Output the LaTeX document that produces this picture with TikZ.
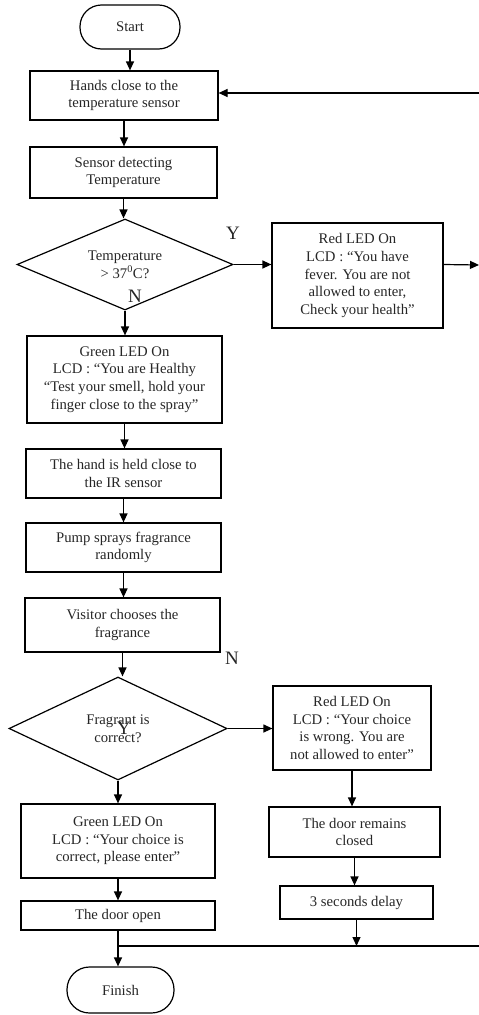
\documentclass[tikz,border=0pt]{standalone}
\usepackage{fontspec}
\setmainfont{Liberation Serif}
\usetikzlibrary{shapes.geometric,arrows.meta}
\begin{document}
\begin{tikzpicture}[x=1pt,y=-1pt,
  every node/.style={font=\fontsize{14.7}{17.6}\selectfont, align=center, line width=1.2pt, text=black!85},
  box/.style={draw, rectangle, inner sep=0pt},
  term/.style={draw, rectangle, inner sep=0pt, rounded corners=21.5pt},
  dec/.style={draw, diamond, inner sep=0pt, aspect=2.3},
  arr/.style={line width=1.2pt, -{Triangle[length=9pt,width=8pt]}},
  ln/.style={line width=1.2pt},
  lbl/.style={font=\fontsize{19}{19}\selectfont}
]
\useasboundingbox (0,0) rectangle (479,1015);

\node[term, minimum width=100pt, minimum height=44pt] (start) at (130,27) {Start};
\node[box, minimum width=188pt, minimum height=49pt] (b1) at (124,95.5) {Hands close to the\\temperature sensor};
\node[box, minimum width=187pt, minimum height=51pt] (b2) at (123.5,172.5) {Sensor detecting\\Temperature};
\node[dec, minimum width=216pt, minimum height=91pt] (d1) at (125,264.5) {Temperature\\> 37\textsuperscript{0}C?};
\node[box, minimum width=171pt, minimum height=105pt] (red1) at (357.5,275.5) {Red LED On\\LCD : “You have\\fever. You are not\\allowed to enter,\\Check your health”};
\node[box, minimum width=195pt, minimum height=87pt] (g1) at (124.5,379.5) {Green LED On\\LCD : “You are Healthy\\“Test your smell, hold your\\finger close to the spray”};
\node[box, minimum width=195pt, minimum height=49pt] (b3) at (123.5,473.5) {The hand is held close to\\the IR sensor};
\node[box, minimum width=195pt, minimum height=49pt] (b4) at (123.5,547.5) {Pump sprays fragrance\\randomly};
\node[box, minimum width=195pt, minimum height=54pt] (b5) at (122.5,625) {Visitor chooses the\\fragrance};
\node[dec, minimum width=218pt, minimum height=103pt] (d2) at (118,728.5) {Fragrant is\\correct?};
\node[box, minimum width=158pt, minimum height=84pt] (red2) at (352,728) {Red LED On\\LCD : “Your choice\\is wrong. You are\\not allowed to enter”};
\node[box, minimum width=171pt, minimum height=50pt] (remain) at (354.5,832) {The door remains\\closed};
\node[box, minimum width=194pt, minimum height=74pt] (g2) at (118,841) {Green LED On\\LCD : “Your choice is\\correct, please enter”};
\node[box, minimum width=194pt, minimum height=29pt] (door) at (118,915.5) {The door open};
\node[box, minimum width=153pt, minimum height=33pt] (delay) at (356.5,902.5) {3 seconds delay};
\node[term, minimum width=107pt, minimum height=46pt, rounded corners=22.5pt] (finish) at (120.5,990) {Finish};

\node[lbl] (y1) at (233,233) {Y};
\node[lbl] (n1) at (135,296) {N};
\node[lbl] (n2) at (232,658) {N};
\node[lbl] (y2) at (124,728) {Y};

\coordinate (loopin) at (479,93);
\coordinate (r1out) at (479,265);
\coordinate (jn) at (119,946);
\coordinate (jend) at (479,946);

\draw[arr] (start.south) -- (start.south |- b1.north);
\draw[arr] (b1.south) -- (b1.south |- b2.north);
\draw[arr] (b2.south) -- (b2.south |- d1.north);
\draw[arr] (loopin) -- (loopin -| b1.east);
\draw[arr] (d1.east) -- (d1.east -| red1.west);
\draw[arr] (d1.east -| red1.east) -- (r1out);
\draw[arr] (d1.south) -- (d1.south |- g1.north);
\draw[arr] (g1.south) -- (g1.south |- b3.north);
\draw[arr] (b3.south) -- (b3.south |- b4.north);
\draw[arr] (b4.south) -- (b4.south |- b5.north);
\draw[arr] (b5.south) -- (b5.south |- d2.north);
\draw[arr] (d2.east) -- (d2.east -| red2.west);
\draw[arr] (d2.south) -- (d2.south |- g2.north);
\draw[arr] (red2.south) -- (red2.south |- remain.north);
\draw[arr] (remain.south) -- (remain.south |- delay.north);
\draw[arr] (g2.south) -- (g2.south |- door.north);
\draw[arr] (delay.south) -- (delay.south |- jn);
\draw[arr] (door.south) -- (door.south |- finish.north);
\draw[ln] (jn) -- (jend);
\end{tikzpicture}
\end{document}
